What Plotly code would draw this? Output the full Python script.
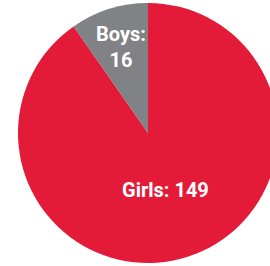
import plotly.graph_objects as go

labels = ["Girls", "Boys"]
values = [149, 16]
colors = ["#E41B38", "#808285"]

W, H = 296, 266
fig = go.Figure(go.Pie(
    labels=labels,
    values=values,
    sort=False,
    direction="clockwise",
    rotation=0,
    marker=dict(colors=colors, line=dict(width=0)),
    textinfo="none",
    hoverinfo="skip",
    showlegend=False,
    domain=dict(x=[18 / W, 278 / W], y=[3 / H, 263 / H]),
))

font = dict(family="Roboto", size=20, color="white", weight="bold")
label_pos = {"Boys": (121, 47), "Girls": (165, 190)}
label_text = {"Girls": f"{labels[0]}: {values[0]}", "Boys": f"{labels[1]}:<br>{values[1]}"}
for lab in labels:
    px, py = label_pos[lab]
    fig.add_annotation(text=label_text[lab], x=px / W, y=1 - py / H,
                       xref="paper", yref="paper", showarrow=False,
                       xanchor="center", yanchor="middle", font=font,
                       align="center")

fig.update_layout(
    width=W, height=H,
    margin=dict(l=0, r=0, t=0, b=0),
    paper_bgcolor="white",
    plot_bgcolor="white",
)
fig.write_html("out.html", config={"displayModeBar": False},
               post_script="document.body.style.margin='0';document.body.style.overflow='hidden';")
